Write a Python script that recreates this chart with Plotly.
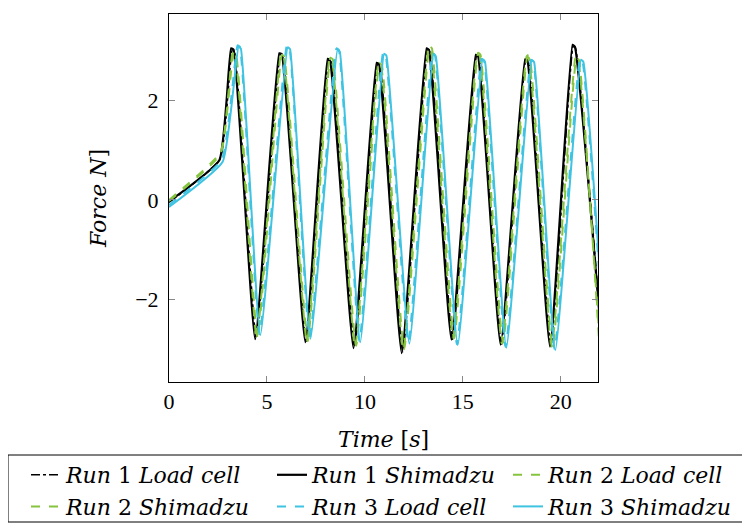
import plotly.graph_objects as go

# Run 1 Load cell (black dash-dot)
r1_lc_t = [0, 2.60, 3.22, 3.34, 4.45, 5.68, 5.80, 7.00, 8.15, 8.27, 9.47, 10.65, 10.77, 11.93, 13.20, 13.32, 14.47, 15.70, 15.82, 16.98, 18.22, 18.34, 19.50, 20.63, 20.75, 21.95]
r1_lc_y = [-0.05, 0.82, 3.00, 2.98, -2.78, 2.93, 2.90, -2.84, 2.82, 2.79, -2.95, 2.74, 2.71, -3.05, 3.01, 2.98, -2.80, 2.90, 2.87, -2.90, 2.84, 2.80, -2.93, 3.10, 3.06, -2.10]
# Run 1 Shimadzu (black solid)
r1_s_t = [0, 2.57, 3.17, 3.30, 4.40, 5.63, 5.76, 6.96, 8.10, 8.22, 9.42, 10.60, 10.72, 11.88, 13.15, 13.27, 14.42, 15.66, 15.78, 16.93, 18.18, 18.30, 19.45, 20.60, 20.72, 21.95]
r1_s_y = [-0.03, 0.80, 3.05, 3.02, -2.80, 2.95, 2.93, -2.86, 2.84, 2.81, -2.98, 2.76, 2.73, -3.08, 3.05, 3.02, -2.81, 2.92, 2.89, -2.91, 2.83, 2.80, -2.95, 3.12, 3.08, -2.20]
# Run 2 Load cell (green dashed)
r2_lc_t = [0, 2.65, 3.30, 3.42, 4.52, 5.76, 5.88, 7.08, 8.24, 8.36, 9.55, 10.74, 10.86, 12.00, 13.30, 13.42, 14.55, 15.78, 15.90, 17.05, 18.30, 18.42, 19.58, 20.80, 20.92, 21.95]
r2_lc_y = [0.00, 0.97, 2.98, 2.95, -2.76, 2.92, 2.89, -2.84, 2.86, 2.83, -2.93, 2.75, 2.72, -3.00, 3.09, 3.05, -2.78, 2.96, 2.92, -2.87, 2.91, 2.87, -2.96, 2.86, 2.82, -2.80]
# Run 2 Shimadzu (green dashed)
r2_s_t = [0, 2.62, 3.26, 3.38, 4.48, 5.72, 5.84, 7.04, 8.20, 8.32, 9.50, 10.70, 10.82, 11.96, 13.26, 13.38, 14.50, 15.74, 15.86, 17.00, 18.26, 18.38, 19.54, 20.76, 20.88, 21.95]
r2_s_y = [-0.02, 0.92, 3.00, 2.97, -2.79, 2.94, 2.91, -2.86, 2.85, 2.82, -2.96, 2.76, 2.73, -3.02, 3.07, 3.03, -2.79, 2.94, 2.90, -2.89, 2.89, 2.85, -2.95, 2.88, 2.84, -2.65]
# Run 3 Load cell (cyan dashed)
r3_lc_t = [0, 2.70, 3.50, 3.62, 4.62, 6.02, 6.14, 7.18, 8.55, 8.67, 9.72, 10.93, 11.05, 12.22, 13.45, 13.57, 14.70, 15.96, 16.08, 17.18, 18.48, 18.60, 19.68, 20.98, 21.10, 21.95]
r3_lc_y = [-0.10, 0.82, 3.11, 3.08, -2.70, 3.11, 3.08, -2.77, 3.05, 3.02, -2.84, 2.96, 2.93, -2.87, 2.95, 2.92, -2.90, 2.84, 2.81, -2.95, 2.82, 2.79, -3.00, 2.83, 2.80, -1.40]
# Run 3 Shimadzu (cyan solid)
r3_s_t = [0, 2.74, 3.55, 3.67, 4.66, 6.06, 6.18, 7.22, 8.60, 8.72, 9.76, 10.98, 11.10, 12.27, 13.50, 13.62, 14.74, 16.01, 16.13, 17.22, 18.52, 18.64, 19.72, 21.03, 21.15, 21.95]
r3_s_y = [-0.14, 0.77, 3.08, 3.04, -2.72, 3.07, 3.03, -2.79, 3.02, 2.98, -2.86, 2.94, 2.90, -2.89, 2.93, 2.89, -2.92, 2.82, 2.78, -2.97, 2.81, 2.77, -3.02, 2.82, 2.78, -1.20]

x_ticks = [0, 5, 10, 15, 20]
y_ticks = [-2, 0, 2]
y_tick_labels = ["\u22122", "0", "2"]

BLACK = "#000000"
GREEN = "#86c440"
CYAN = "#3ec3e2"
FONT = "Liberation Serif"
TFONT = "DejaVu Serif"

# page offsets the figure by the default 8px body margin; positions below are screen px
OFF = 8
PL, PR, PT, PB = 169 - OFF, 598 - OFF, 14 - OFF, 382 - OFF
PW, PH = PR - PL, PB - PT

def px_x(px):
    return (px - OFF - PL) / PW

def px_y(py):
    return (PB - (py - OFF)) / PH

series = [
    ("<i>Run</i> 1 <i>Load cell</i>", r1_lc_t, r1_lc_y, BLACK, "dashdot", 1.6, "legend"),
    ("<i>Run</i> 1 <i>Shimadzu</i>", r1_s_t, r1_s_y, BLACK, "solid", 2.2, "legend2"),
    ("<i>Run</i> 2 <i>Load cell</i>", r2_lc_t, r2_lc_y, GREEN, "dash", 2.0, "legend3"),
    ("<i>Run</i> 2 <i>Shimadzu</i>", r2_s_t, r2_s_y, GREEN, "dash", 2.0, "legend"),
    ("<i>Run</i> 3 <i>Load cell</i>", r3_lc_t, r3_lc_y, CYAN, "dash", 2.0, "legend2"),
    ("<i>Run</i> 3 <i>Shimadzu</i>", r3_s_t, r3_s_y, CYAN, "solid", 2.0, "legend3"),
]

fig = go.Figure()
for name, t, y, c, dash, w, lg in series:
    fig.add_trace(go.Scatter(x=t, y=y, mode="lines", name=name, legend=lg,
                             line=dict(color=c, dash=dash, width=w, shape="spline", smoothing=0.4)))

axis_common = dict(showline=True, linecolor="black", linewidth=1, mirror="ticks",
                   ticks="inside", ticklen=6, tickcolor="#888888", showgrid=False, zeroline=False,
                   automargin=False, tickfont=dict(family=FONT, size=22, color="black"))

legend_common = dict(orientation="v", yanchor="top", xanchor="left", borderwidth=0,
                     bgcolor="rgba(0,0,0,0)", font=dict(family=TFONT, size=22, color="black"),
                     tracegroupgap=0)

fig.update_layout(
    width=750, height=525,
    margin=dict(l=PL, r=750 - PR, t=PT, b=525 - PB, autoexpand=False),
    paper_bgcolor="white", plot_bgcolor="white",
    font=dict(family=FONT, color="black"),
    xaxis=dict(range=[0, 21.9], tickvals=x_ticks,
               title=dict(text="<i>Time</i> [<i>s</i>]", font=dict(family=TFONT, size=22), standoff=18),
               **axis_common),
    yaxis=dict(range=[-3.66, 3.74], tickvals=y_ticks, ticktext=y_tick_labels, ticklabelstandoff=5,
               title=dict(text="<i>Force N</i>]", font=dict(family=TFONT, size=22), standoff=22),
               **axis_common),
    legend=dict(x=px_x(26), y=px_y(454), **legend_common),
    legend2=dict(x=px_x(272), y=px_y(454), **legend_common),
    legend3=dict(x=px_x(508), y=px_y(454), **legend_common),
    shapes=[dict(type="rect", xref="paper", yref="paper",
                 x0=px_x(8), x1=px_x(748), y0=px_y(522), y1=px_y(455),
                 line=dict(color="black", width=1), fillcolor="rgba(0,0,0,0)")],
    showlegend=True,
)

fig.write_html("out.html")
